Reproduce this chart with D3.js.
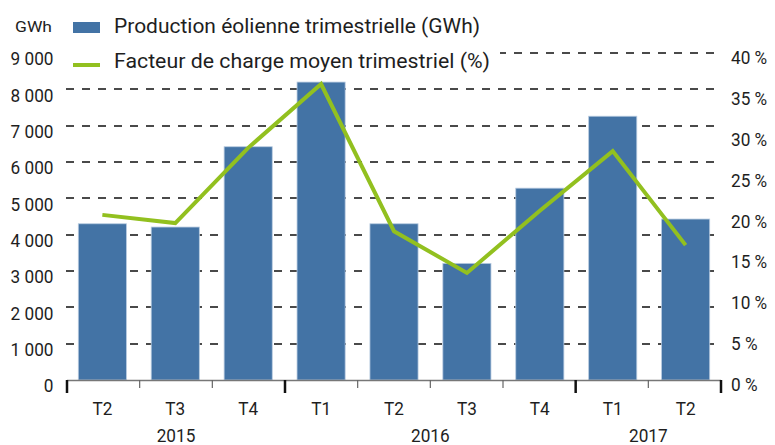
<!DOCTYPE html>
<html>
<head>
<meta charset="utf-8">
<script src="https://cdn.jsdelivr.net/npm/d3@7"></script>
<style>
  body { margin: 0; background: #fff; }
  svg { display: block; font-family: Roboto, "Liberation Sans", sans-serif; }
</style>
</head>
<body>
<svg id="chart" width="775" height="445"></svg>
<script>
var quarters = ['T2', 'T3', 'T4', 'T1', 'T2', 'T3', 'T4', 'T1', 'T2'];
var years = [
    {label: '2015', from: 0, to: 3},
    {label: '2016', from: 3, to: 7},
    {label: '2017', from: 7, to: 9}
];
var production = [4300, 4210, 6420, 8200, 4300, 3210, 5280, 7260, 4430];
var loadFactor = [20.2, 19.2, 28.4, 36.2, 18.2, 13.1, 20.7, 28.0, 16.5];
var leftTicks = [0, 1000, 2000, 3000, 4000, 5000, 6000, 7000, 8000, 9000];
var rightTicks = [0, 5, 10, 15, 20, 25, 30, 35, 40];

(function () {
    'use strict';

    var
        svg = d3.select('#chart'),
        left = 67,
        right = 721,
        top = 53,
        bottom = 380,
        barColor = '#4373a5',
        lineColor = '#92c01f',
        textColor = '#1e1e1e',
        squeeze = 0.93,
        fmt = d3.formatLocale({decimal: ',', thousands: '\u00a0', grouping: [3], currency: ['', '']}).format(',d');

    var idx = d3.range(quarters.length);

    var x = d3.scaleBand()
        .domain(idx)
        .range([left, right])
        .paddingInner(0.34)
        .paddingOuter(0.155);

    //boundaries between quarters
    var xs = d3.scaleLinear().domain([0, quarters.length]).range([left, right]);

    var yL = d3.scaleLinear().domain([0, 9000]).range([bottom, top]);
    var yR = d3.scaleLinear().domain([0, 40]).range([bottom, top]);

    //narrow label helper (font in the source is condensed)
    var label = function (g, px, py, txt, size, anchor) {
        return g.append('text')
            .attr('transform', 'translate(' + px + ',' + py + ') scale(' + squeeze + ',1)')
            .attr('text-anchor', anchor || 'start')
            .attr('font-size', size)
            .attr('fill', textColor)
            .text(txt);
    };

    //dashed grid
    svg.append('g')
        .selectAll('line')
        .data(leftTicks.slice(1))
        .enter().append('line')
        .attr('x1', left - 1)
        .attr('x2', right)
        .attr('y1', function (d) { return Math.round(yL(d)); })
        .attr('y2', function (d) { return Math.round(yL(d)); })
        .attr('stroke', '#4a4a4a')
        .attr('stroke-width', 1.8)
        .attr('stroke-dasharray', '8,8');

    //bars
    svg.append('g')
        .selectAll('rect')
        .data(production)
        .enter().append('rect')
        .attr('x', function (d, i) { return x(i); })
        .attr('width', x.bandwidth())
        .attr('y', function (d) { return yL(d); })
        .attr('height', function (d) { return bottom - yL(d); })
        .attr('fill', barColor)
        .attr('stroke', '#b8cbe0')
        .attr('stroke-width', 0.8);

    //load factor line
    var line = d3.line()
        .x(function (d, i) { return x(i) + x.bandwidth() / 2; })
        .y(function (d) { return yR(d); });

    svg.append('path')
        .datum(loadFactor)
        .attr('d', line)
        .attr('fill', 'none')
        .attr('stroke', lineColor)
        .attr('stroke-width', 4)
        .attr('stroke-linejoin', 'miter');

    //baseline + ticks
    svg.append('line')
        .attr('x1', left).attr('x2', right)
        .attr('y1', bottom + 0.5).attr('y2', bottom + 0.5)
        .attr('stroke', '#777').attr('stroke-width', 1.5);

    var yearEdges = [0, 3, 7, 9];
    svg.append('g')
        .selectAll('line')
        .data(d3.range(quarters.length + 1))
        .enter().append('line')
        .attr('x1', function (d) { return xs(d); })
        .attr('x2', function (d) { return xs(d); })
        .attr('y1', bottom)
        .attr('y2', function (d) { return yearEdges.indexOf(d) >= 0 ? bottom + 13 : bottom + 8; })
        .attr('stroke', function (d) { return yearEdges.indexOf(d) >= 0 ? '#111' : '#666'; })
        .attr('stroke-width', function (d) { return yearEdges.indexOf(d) >= 0 ? 2.5 : 1.2; });

    var gx = svg.append('g');
    quarters.forEach(function (q, i) {
        label(gx, x(i) + x.bandwidth() / 2, 415, q, 18.5, 'middle');
    });
    years.forEach(function (yr) {
        label(gx, (xs(yr.from) + xs(yr.to)) / 2, 441.5, yr.label, 18.5, 'middle');
    });

    var gl = svg.append('g');
    leftTicks.forEach(function (d) {
        label(gl, 53.5, yL(d) + 12.3, fmt(d), 18.5, 'end');
    });

    var gr = svg.append('g');
    rightTicks.forEach(function (d) {
        label(gr, 731, yR(d) + 11, d + '\u00a0%', 18.5);
    });

    svg.append('text')
        .attr('x', 15).attr('y', 32)
        .attr('font-size', 15.5)
        .attr('textLength', 37)
        .attr('lengthAdjust', 'spacingAndGlyphs')
        .attr('fill', textColor)
        .text('GWh');

    //legend (white box hides the top gridline)
    var legend = svg.append('g');
    legend.append('rect')
        .attr('x', 62).attr('y', 5).attr('width', 438).attr('height', 70)
        .attr('fill', '#fff');
    legend.append('rect')
        .attr('x', 73).attr('y', 22).attr('width', 27).attr('height', 11)
        .attr('fill', barColor);
    legend.append('line')
        .attr('x1', 73).attr('x2', 100).attr('y1', 65).attr('y2', 65)
        .attr('stroke', lineColor).attr('stroke-width', 4);
    legend.append('text')
        .attr('x', 114).attr('y', 32.5)
        .attr('font-size', 21)
        .attr('textLength', 366)
        .attr('lengthAdjust', 'spacingAndGlyphs')
        .attr('fill', textColor)
        .text('Production éolienne trimestrielle (GWh)');
    legend.append('text')
        .attr('x', 114).attr('y', 67.5)
        .attr('font-size', 21)
        .attr('textLength', 376)
        .attr('lengthAdjust', 'spacingAndGlyphs')
        .attr('fill', textColor)
        .text('Facteur de charge moyen trimestriel (%)');
})();
</script>
</body>
</html>
